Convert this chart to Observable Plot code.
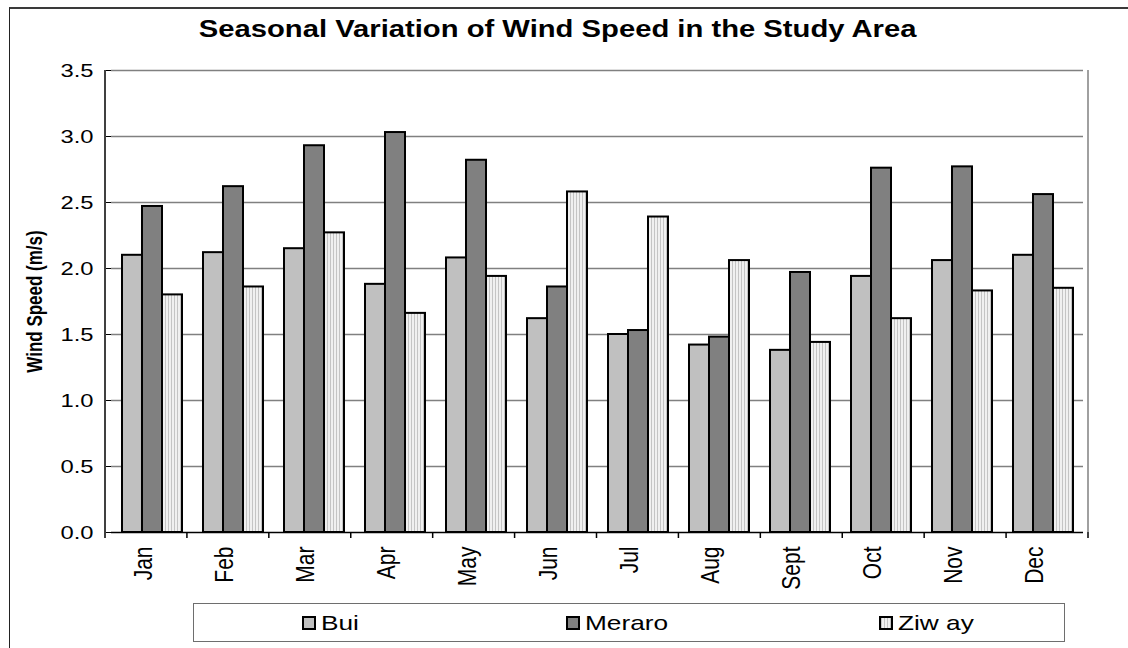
<!DOCTYPE html>
<html>
<head>
<meta charset="utf-8">
<script src="https://cdn.jsdelivr.net/npm/d3@7"></script>
<script src="https://cdn.jsdelivr.net/npm/@observablehq/plot@0.6"></script>
<style>
  html, body { margin: 0; padding: 0; background: #fff; }
  #wrap { position: relative; width: 1128px; height: 648px; overflow: hidden; font-family: "Liberation Sans", Arial, sans-serif; }
  #border { position: absolute; left: 9px; top: 7px; width: 1200px; height: 700px; border-top: 2px solid #3a3a3a; border-left: 1.5px solid #222; }
  #title { position: absolute; left: 0; width: 1115px; top: 18px; text-align: center; font-weight: bold; font-size: 23px; line-height: 23px; color: #000; transform: scaleX(1.27); transform-origin: 557px 0; white-space: nowrap; }
  #chart { position: absolute; left: 0; top: 50px; }
  #legend { position: absolute; left: 193px; top: 603px; width: 870px; height: 37px; border: 1.5px solid #6e6e6e; }
  .item { position: absolute; top: 0; height: 37px; display: flex; align-items: center; }
  .sw { width: 10px; height: 10px; border: 2px solid #000; box-sizing: content-box; }
  .lab { font-size: 21px; margin-left: 5px; transform: scaleX(1.25); transform-origin: 0 50%; color: #000; }
</style>
</head>
<body>
<div id="wrap">
  <div id="border"></div>
  <div id="title">Seasonal Variation of Wind Speed in the Study Area</div>
  <div id="chart"></div>
  <div id="legend"></div>
</div>
<script>
// ---- data ----
const months = ["Jan","Feb","Mar","Apr","May","Jun","Jul","Aug","Sept","Oct","Nov","Dec"];
const series = ["Bui","Meraro","Ziw ay"];
const bui    = [2.10, 2.12, 2.15, 1.88, 2.08, 1.62, 1.50, 1.42, 1.38, 1.94, 2.06, 2.10];
const meraro = [2.47, 2.62, 2.93, 3.03, 2.82, 1.86, 1.53, 1.48, 1.97, 2.76, 2.77, 2.56];
const ziway  = [1.80, 1.86, 2.27, 1.66, 1.94, 2.58, 2.39, 2.06, 1.44, 1.62, 1.83, 1.85];
const yTicks = [0, 0.5, 1.0, 1.5, 2.0, 2.5, 3.0, 3.5];
const yTitle = "Wind Speed (m/s)";

const fills = ["#c0c0c0", "#808080", "url(#zwStripe)"];
const table = months.flatMap((m, i) => [
  {month: m, series: series[0], value: bui[i]},
  {month: m, series: series[1], value: meraro[i]},
  {month: m, series: series[2], value: ziway[i]}
]);

const chart = Plot.plot({
  width: 1128,
  height: 550,
  marginLeft: 105,
  marginRight: 40,
  marginTop: 20,
  marginBottom: 68,
  style: {fontFamily: '"Liberation Sans", Arial, sans-serif', background: "transparent", color: "#000"},
  fx: {domain: months, padding: 0, axis: null, label: null},
  x: {domain: series, paddingInner: 0, paddingOuter: 0.525, axis: null, label: null},
  y: {domain: [0, 3.5], axis: null, label: null},
  color: {domain: series, range: fills},
  marks: [
    Plot.gridY(yTicks.slice(1), {stroke: "#808080", strokeOpacity: 1, strokeWidth: 1.5}),
    Plot.barY(table, {fx: "month", x: "series", y: "value", fill: "series", stroke: "#000", strokeWidth: 2}),
    Plot.ruleY([0], {stroke: "#000", strokeWidth: 1.5}),
    Plot.axisY({ticks: yTicks, tickFormat: d3.format(".1f"), tickSize: 5, tickPadding: 13, fontSize: 19, label: null, stroke: "#000"}),
    Plot.text(months, {fx: d => d, text: d => d, frameAnchor: "bottom", dy: 14, rotate: -90, textAnchor: "end", fontSize: 21, fill: "#000"}),
    Plot.text([yTitle], {fx: () => months[0], text: d => d, frameAnchor: "left", dx: -76, rotate: -90, textAnchor: "middle", fontWeight: "bold", fontSize: 17, fill: "#000"})
  ]
});

document.getElementById("chart").appendChild(chart);

// ---- decorations drawn from the scales ----
const svg = d3.select(chart.tagName.toLowerCase() === "svg" ? chart : chart.querySelector("svg"));
const defs = svg.insert("defs", ":first-child");
const pat = defs.append("pattern").attr("id", "zwStripe").attr("patternUnits", "userSpaceOnUse").attr("width", 3).attr("height", 3);
pat.append("rect").attr("width", 3).attr("height", 3).attr("fill", "#f0f0f0");
pat.append("rect").attr("width", 1).attr("height", 3).attr("fill", "#c4c4c4");

const fxs = chart.scale("fx");
const ys = chart.scale("y");
const [x0, x1] = fxs.range;
const [yb, yt] = ys.range;
const step = (x1 - x0) / fxs.domain.length;
const deco = svg.append("g");
// right plot border
deco.append("line").attr("x1", x1).attr("x2", x1).attr("y1", yt).attr("y2", yb).attr("stroke", "#808080").attr("stroke-width", 1.5);
// left axis line
deco.append("line").attr("x1", x0).attr("x2", x0).attr("y1", yt).attr("y2", yb).attr("stroke", "#000").attr("stroke-width", 1.5);
// category boundary ticks
d3.range(fxs.domain.length + 1).forEach(i => {
  const x = x0 + i * step;
  deco.append("line").attr("x1", x).attr("x2", x).attr("y1", yb).attr("y2", yb + 6).attr("stroke", "#000").attr("stroke-width", 1.5);
});

// horizontal widening of glyphs (as in the reference)
svg.selectAll("text").each(function() {
  const tr = this.getAttribute("transform");
  if (tr && /translate\(/.test(tr)) {
    this.setAttribute("transform", tr.replace(/(translate\([^)]*\))/, "$1 scale(1.25,1)"));
  }
});

// ---- legend ----
const legend = d3.select("#legend");
const legendLeft = [108, 372, 685];
series.forEach((s, i) => {
  const it = legend.append("div").attr("class", "item").style("left", legendLeft[i] + "px");
  it.append("div").attr("class", "sw").style("background", i === 2 ? "repeating-linear-gradient(90deg, #c4c4c4 0 1px, #f0f0f0 1px 3px)" : fills[i]);
  it.append("div").attr("class", "lab").text(s);
});
</script>
</body>
</html>
